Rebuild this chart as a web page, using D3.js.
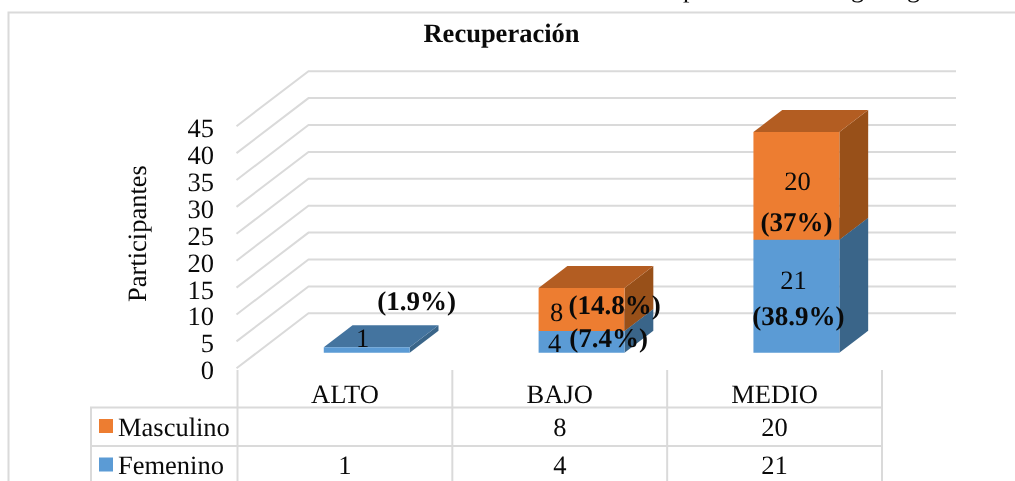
<!DOCTYPE html>
<html lang="es">
<head>
<meta charset="utf-8">
<script src="https://cdn.jsdelivr.net/npm/d3@7/dist/d3.min.js"></script>
<style>
html,body{margin:0;padding:0;background:#fff;overflow:hidden}
svg{display:block;filter:blur(0.4px)}
text{font-family:"Liberation Serif","Times New Roman",serif;fill:#0a0a0a;text-rendering:geometricPrecision}
</style>
</head>
<body>
<svg id="chart" width="1015" height="481"></svg>
<script>
const titleText = "Recuperación";
const yAxisTitle = "Participantes";
const categories = ["ALTO", "BAJO", "MEDIO"];
const seriesNames = ["Femenino", "Masculino"];
const femenino = [1, 4, 21];
const masculino = [0, 8, 20];
const pctFemenino = ["(1.9%)", "(7.4%)", "(38.9%)"];
const pctMasculino = ["", "(14.8%)", "(37%)"];
const yTicks = [0, 5, 10, 15, 20, 25, 30, 35, 40, 45];
const cutOffGlyphs = ["p", "g", "g"];

const colors = {
  Femenino: {front: "#5B9BD5", top: "#44749F", side: "#3A6589"},
  Masculino: {front: "#ED7D31", top: "#B35D22", side: "#985019"}
};
const grid = "#dadada";

const svg = d3.select("#chart");
const x = d3.scaleBand().domain(categories).range([238.8, 883.3]).paddingInner(0.6).paddingOuter(0.3);
const col = d3.scaleBand().domain(categories).range([237.5, 882]);
const y = d3.scaleLinear().domain([0, 45]).range([368.3, 126.2]);
const depthX = 72, depthY = 55;
const d0 = 0.285, d1 = 0.685;
const proj = (px, v, d) => [px + d * depthX, y(v) - d * depthY];
const line = d3.line();

// chart frame
svg.append("path").attr("d", "M8.5,481V12.5H1015").attr("fill", "none").attr("stroke", grid).attr("stroke-width", 2);

// cropped text from the page above the chart
svg.selectAll("text.cut").data(cutOffGlyphs).join("text").attr("class", "cut")
  .attr("x", (d, i) => [683, 851, 907][i]).attr("y", -3).attr("font-size", 26).text(d => d);

// title
svg.append("text").attr("x", 501.5).attr("y", 42).attr("text-anchor", "middle")
  .attr("font-size", 26.5).attr("font-weight", "bold").text(titleText);

// gridlines: side wall then back wall
svg.append("g").selectAll("path").data(yTicks).join("path")
  .attr("d", t => {
    const a = proj(236.5, t, 0), b = proj(236.5, t, 1);
    return line([a, b, [956, b[1]]]);
  })
  .attr("fill", "none").attr("stroke", grid).attr("stroke-width", 2);

// y axis
const axis = svg.append("g").attr("transform", "translate(214,2)")
  .call(d3.axisLeft(y).tickValues(yTicks).tickSize(0).tickPadding(0));
axis.select(".domain").remove();
axis.selectAll("text").attr("font-size", 26.5).attr("font-family", '"Liberation Serif",serif');

// y title
svg.append("text").attr("transform", "translate(146,233.5) rotate(-90)")
  .attr("text-anchor", "middle").attr("font-size", 26.5).text(yAxisTitle);

// stacked 3D bars
const w = x.bandwidth();
categories.forEach((c, i) => {
  const left = x(c), right = left + w;
  const stack = [
    {name: "Femenino", from: 0, to: femenino[i]},
    {name: "Masculino", from: femenino[i], to: femenino[i] + masculino[i]}
  ].filter(s => s.to > s.from);
  const g = svg.append("g");
  stack.forEach(s => {
    const col3 = colors[s.name];
    g.append("path").attr("fill", col3.side)
      .attr("d", line([proj(right, s.from, d0), proj(right, s.from, d1), proj(right, s.to, d1), proj(right, s.to, d0)]) + "Z");
    g.append("path").attr("fill", col3.top)
      .attr("d", line([proj(left, s.to, d0), proj(left, s.to, d1), proj(right, s.to, d1), proj(right, s.to, d0)]) + "Z");
    g.append("path").attr("fill", col3.front)
      .attr("d", line([proj(left, s.from, d0), proj(right, s.from, d0), proj(right, s.to, d0), proj(left, s.to, d0)]) + "Z");
  });
});

// data labels, placed relative to each bar's centre
const barCx = c => x(c) + w / 2 + d0 * depthX;
const valueOffsets = {
  Femenino: [[-4, 347], [-27, 352], [-3, 289]],
  Masculino: [null, [-25, 321], [1, 190]]
};
const pctOffsets = {
  Femenino: [[50, 310], [27, 347], [2, 325]],
  Masculino: [null, [33, 314], [0, 231]]
};
const labelLayer = svg.append("g").attr("text-anchor", "middle").attr("font-size", 26.5);
[["Femenino", femenino, pctFemenino], ["Masculino", masculino, pctMasculino]].forEach(([name, vals, pcts]) => {
  categories.forEach((c, i) => {
    if (!vals[i]) return;
    labelLayer.append("text").attr("x", barCx(c) + valueOffsets[name][i][0]).attr("y", valueOffsets[name][i][1]).text(vals[i]);
    labelLayer.append("text").attr("x", barCx(c) + pctOffsets[name][i][0]).attr("y", pctOffsets[name][i][1])
      .attr("font-size", 27).attr("font-weight", "bold").text(pcts[i]);
  });
});

// data table
const rowTop = 407.5, rowMid = 446, tableBottom = 490, tableLeft = 91;
const tbl = svg.append("g").attr("stroke", grid).attr("stroke-width", 2).attr("fill", "none");
const cols = categories.map(c => col(c)).concat(col.range()[1]);
cols.forEach(cx => tbl.append("path").attr("d", `M${cx},370V${tableBottom}`));
tbl.append("path").attr("d", `M${tableLeft},${tableBottom}V${rowTop}H882`);
tbl.append("path").attr("d", `M${tableLeft},${rowMid}H882`);

const tblText = svg.append("g").attr("font-size", 26.5);
categories.forEach((c, i) => {
  const cx = col(c) + col.bandwidth() / 2;
  tblText.append("text").attr("x", cx).attr("y", 402.5).attr("text-anchor", "middle").text(c);
  if (masculino[i]) tblText.append("text").attr("x", cx).attr("y", 435.5).attr("text-anchor", "middle").text(masculino[i]);
  tblText.append("text").attr("x", cx).attr("y", 474).attr("text-anchor", "middle").text(femenino[i]);
});
[["Masculino", 419, 435.5], ["Femenino", 457.5, 474]].forEach(([n, ky, by]) => {
  svg.append("rect").attr("x", 99).attr("y", ky).attr("width", 14).attr("height", 14).attr("fill", colors[n].front);
  tblText.append("text").attr("x", 118).attr("y", by).text(seriesNames[seriesNames.indexOf(n)]);
});
</script>
</body>
</html>
